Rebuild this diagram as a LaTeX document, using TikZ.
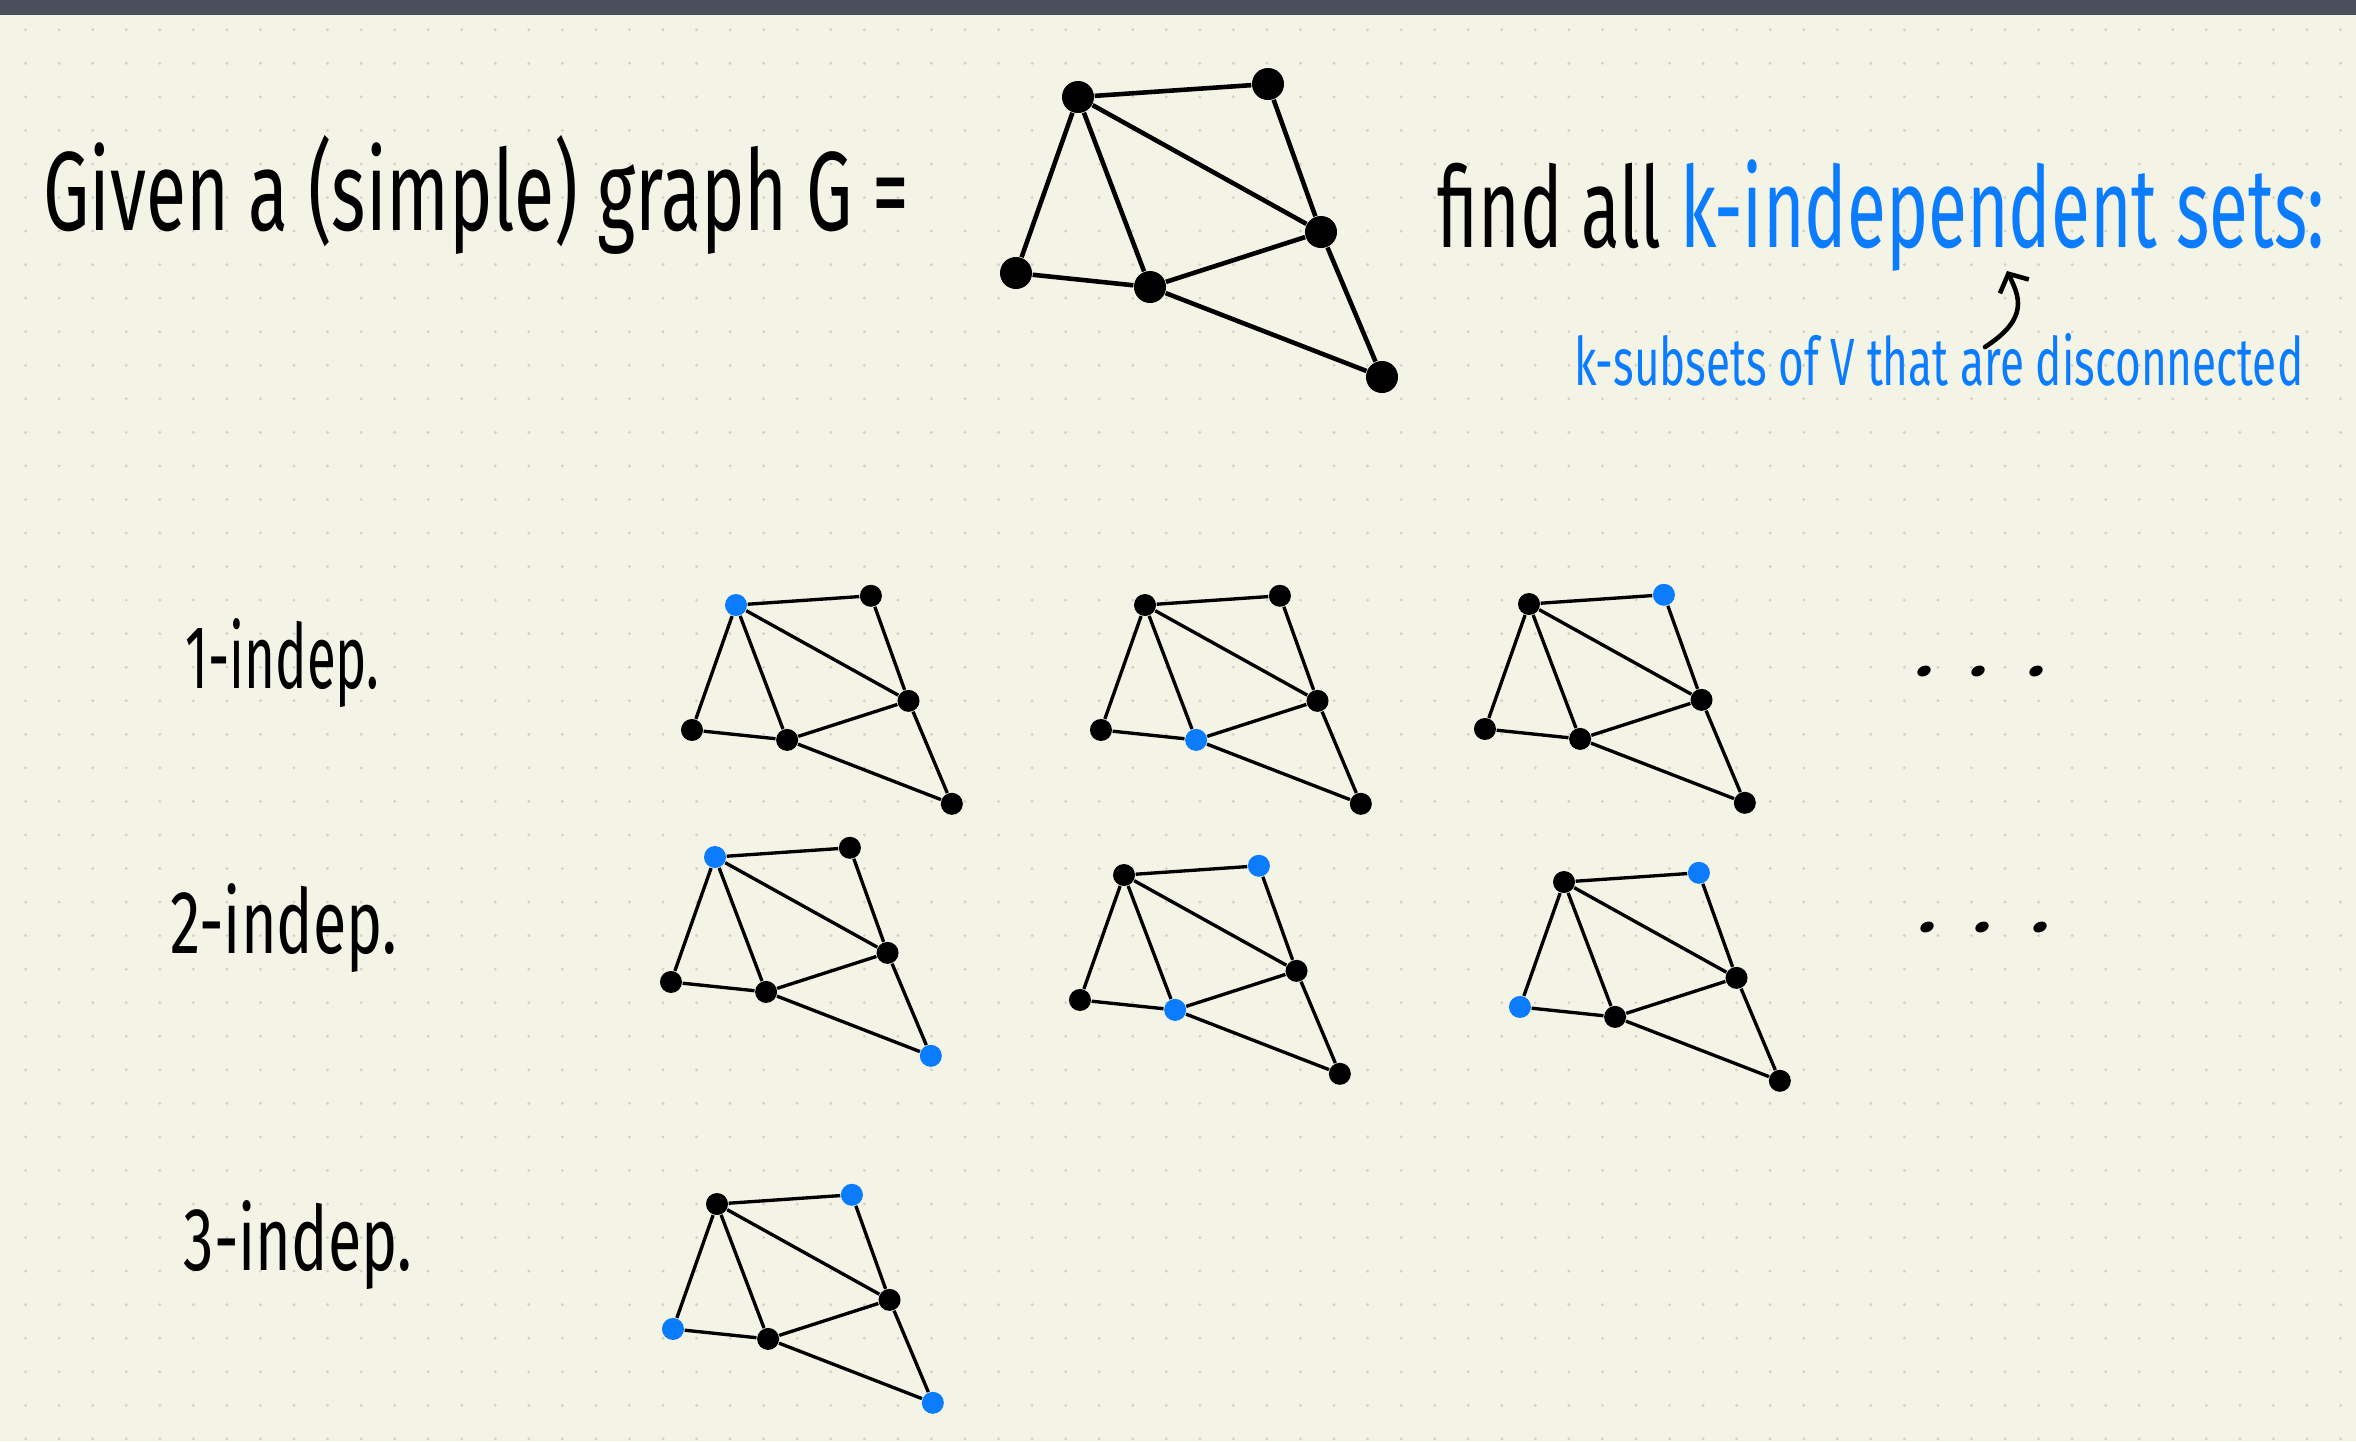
\documentclass[tikz,border=0pt]{standalone}
\usepackage{fontspec}
\newfontfamily\hand[FakeStretch=0.68]{Fira Sans}
\usetikzlibrary{arrows.meta}

\definecolor{paper}{RGB}{243,244,229}
\definecolor{slate}{RGB}{74,79,91}
\definecolor{griddot}{RGB}{214,208,204}
\definecolor{indblue}{RGB}{12,124,255}

\tikzset{
  vtx/.style={circle, fill=black, inner sep=0pt, minimum size=0.22cm},
  hl/.style={fill=indblue},
  edge/.style={line width=0.95pt, black},
  va/.style={}, vb/.style={}, vc/.style={}, vd/.style={}, ve/.style={}, vf/.style={},
  bigG/.style={vtx/.append style={minimum size=0.32cm}, edge/.append style={line width=1.3pt}},
  txt/.style={inner sep=0pt, anchor=base west, font=\hand\fontsize{32}{36}\selectfont},
  lbl/.style={txt, font=\hand\fontsize{25.5}{30}\selectfont},
  squeeze/.style={transform shape, xscale=#1}
}

% one copy of G: #1 options (which vertices are blue), #2 name prefix, #3 where vertex a sits, #4 scale
\newcommand{\ivgraph}[4][]{%
  \begin{scope}[shift={#3}, scale=#4, #1]
    \node[vtx, va] (#2a) at (0,0) {};
    \node[vtx, vb] (#2b) at (190,-13) {};
    \node[vtx, vc] (#2c) at (243,135) {};
    \node[vtx, vd] (#2d) at (-62,176) {};
    \node[vtx, ve] (#2e) at (72,190) {};
    \node[vtx, vf] (#2f) at (304,280) {};
    \draw[edge] (#2a) -- (#2b) (#2a) -- (#2c) (#2a) -- (#2d) (#2a) -- (#2e)
      (#2b) -- (#2c) (#2c) -- (#2e) (#2c) -- (#2f) (#2d) -- (#2e) (#2e) -- (#2f);
  \end{scope}}

\begin{document}
\begin{tikzpicture}[x=0.01cm, y=-0.01cm]
    \useasboundingbox (0,0) rectangle (2356,1441);
    \fill[paper] (0,0) rectangle (2356,1441);
    \foreach \i in {0,...,69}
      \foreach \j in {0,...,42}
        \fill[griddot] ({25.6+33.55*\i},{29.75+33.55*\j}) circle (0.016cm);
    \fill[slate] (0,0) rectangle (2356,15);

    % the graph
    \node[txt, squeeze=0.958] (given) at (43,230) {Given a (simple) graph G =};
    \ivgraph[bigG]{G}{(1078,97)}{1}
    \node[txt, squeeze=0.93] (find) at (1437,247) {find all \textcolor{indblue}{k-independent sets:}};
    \node[txt, squeeze=0.97, font=\hand\fontsize{19}{22}\selectfont, text=indblue] (ksub) at (1574,385) {k-subsets of V that are disconnected};
    \coordinate (tail) at (1985,347);
    \coordinate (tip) at (2007,271);
    \draw[line width=1.3pt, line cap=round, -{Straight Barb[length=0.14cm, width=0.32cm]}] (tail) .. controls (2030,318) and (2019,296) .. (tip);

    % examples
    \node[lbl, squeeze=0.865] (one) at (185,688) {1-indep.};
    \node[lbl] (two) at (170,953) {2-indep.};
    \node[lbl] (three) at (183,1270) {3-indep.};

    \ivgraph[va/.style=hl]{r1g1}{(736,605)}{0.71}
    \ivgraph[ve/.style=hl]{r1g2}{(1145,605)}{0.71}
    \ivgraph[vb/.style=hl]{r1g3}{(1529,604)}{0.71}
    \ivgraph[va/.style=hl, vf/.style=hl]{r2g1}{(715,857)}{0.71}
    \ivgraph[vb/.style=hl, ve/.style=hl]{r2g2}{(1124,875)}{0.71}
    \ivgraph[vb/.style=hl, vd/.style=hl]{r2g3}{(1564,882)}{0.71}
    \ivgraph[vb/.style=hl, vd/.style=hl, vf/.style=hl]{r3g1}{(717,1204)}{0.71}

    \foreach \x/\y in {1924/671, 1978/671, 2036/671, 1927/927, 1982/927, 2040/927}
      \fill[rotate around={25:(\x,\y)}] (\x,\y) ellipse [x radius=0.07cm, y radius=0.05cm];
\end{tikzpicture}
\end{document}
